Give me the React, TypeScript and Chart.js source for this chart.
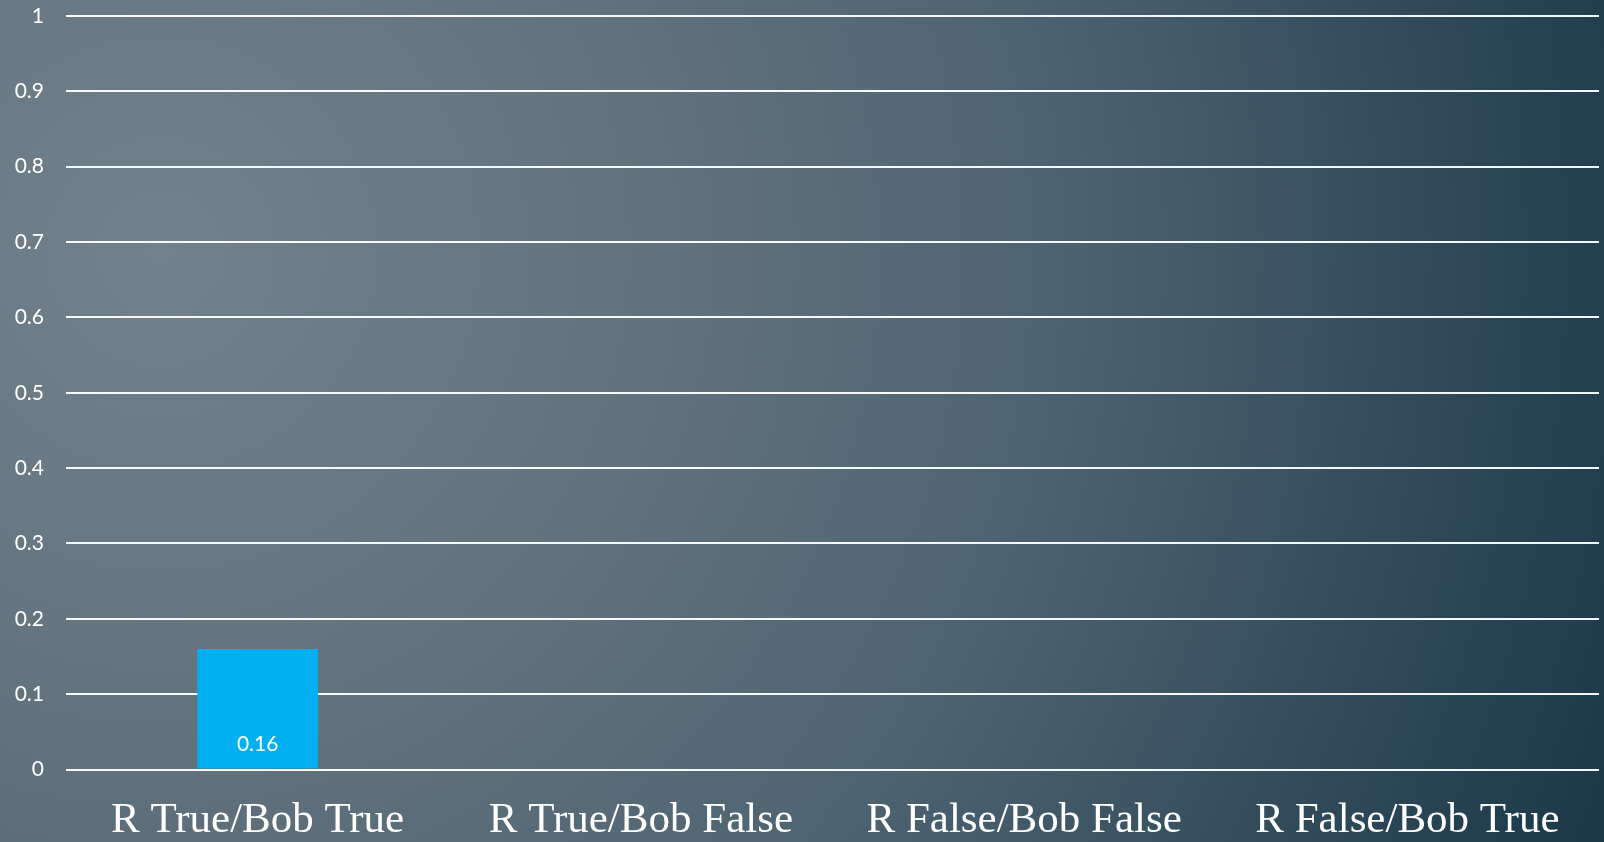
import React, { useEffect, useRef } from "react";
import { Chart, registerables } from "chart.js";

Chart.register(...registerables);

const categories = [
  "R True/Bob True",
  "R True/Bob False",
  "R False/Bob False",
  "R False/Bob True",
];
const values: (number | null)[] = [0.16, null, null, null];
const valueLabels = ["0.16", "", "", ""];

const barLabelPlugin = {
  id: "barLabels",
  afterDatasetsDraw(chart: any) {
    const meta = chart.getDatasetMeta(0);
    const ctx = chart.ctx;
    ctx.save();
    ctx.fillStyle = "#ffffff";
    ctx.font = '21px Lato, "Noto Sans", sans-serif';
    ctx.textAlign = "center";
    ctx.textBaseline = "middle";
    meta.data.forEach((el: any, i: number) => {
      const label = valueLabels[i];
      if (!label || values[i] == null) return;
      ctx.fillText(label, el.x, el.base - 24);
    });
    ctx.restore();
  },
};

export default function App() {
  const ref = useRef<HTMLCanvasElement>(null);
  useEffect(() => {
    document.body.style.margin = "0";
    const chart = new Chart(ref.current!, {
      type: "bar",
      data: {
        labels: categories,
        datasets: [
          {
            data: values,
            backgroundColor: "#00b0f0",
            barPercentage: 0.9,
            categoryPercentage: 0.35,
          },
        ],
      },
      options: {
        animation: false,
        responsive: false,
        layout: { padding: { top: 0, right: 5, left: 0, bottom: 0 } },
        plugins: { legend: { display: false }, tooltip: { enabled: false } },
        scales: {
          x: {
            grid: { display: false, drawTicks: false },
            border: { display: false },
            ticks: {
              color: "#ffffff",
              font: { family: '"Liberation Serif", "DejaVu Serif", serif', size: 43, lineHeight: 1 },
              padding: 30,
              maxRotation: 0,
              autoSkip: false,
            },
            afterFit(scale: any) {
              scale.height = 72.5;
            },
          },
          y: {
            min: 0,
            max: 1,
            border: { display: false },
            grid: { color: "rgba(255,255,255,0.95)", lineWidth: 2, drawTicks: false },
            ticks: {
              stepSize: 0.1,
              color: "#ffffff",
              font: { family: 'Lato, "Noto Sans", sans-serif', size: 21 },
              padding: 22,
              callback: (v: any) => String(Math.round(Number(v) * 10) / 10),
            },
            afterFit(scale: any) {
              scale.width = 66;
              scale.paddingTop = 16;
              scale.paddingBottom = 0;
            },
          },
        },
      },
      plugins: [barLabelPlugin],
    });
    return () => chart.destroy();
  }, []);
  return (
    <div
      style={{
        position: "fixed",
        left: 0,
        top: 0,
        width: 1604,
        height: 842,
        background:
          "radial-gradient(circle farthest-corner at 10% 30%, #72818b 0%, #63737e 30%, #4d6270 58%, #1a3848 100%)",
      }}
    >
      <canvas ref={ref} width={1604} height={842} style={{ display: "block" }} />
    </div>
  );
}
